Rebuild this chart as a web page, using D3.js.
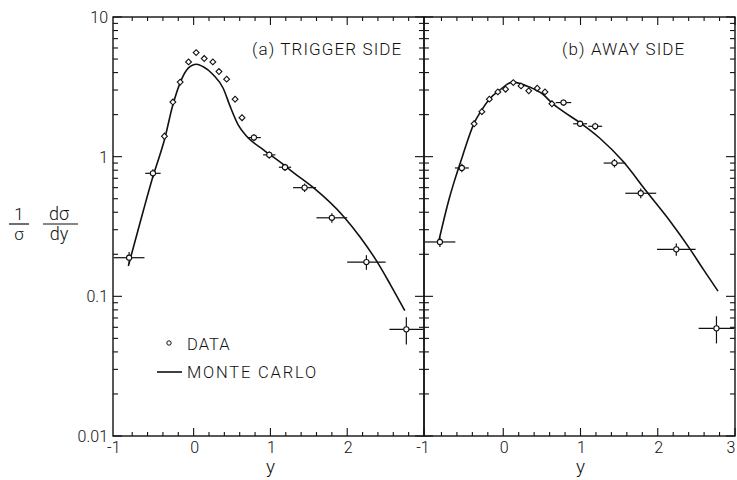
<!DOCTYPE html>
<html>
<head>
<meta charset="utf-8">
<script src="https://cdn.jsdelivr.net/npm/d3@7"></script>
<style>
  body { margin: 0; background: #fff; }
  text { font-family: Roboto, "Liberation Sans", sans-serif; font-weight: 300; fill: #111; }
</style>
</head>
<body>
<script>
// (a) trigger side data
var trigX    = [-0.84, -0.53, -0.38, -0.27, -0.175, -0.066, 0.033, 0.138, 0.25, 0.33, 0.43, 0.54, 0.63, 0.785, 0.985, 1.19, 1.445, 1.80, 2.25, 2.77]
var trigY    = [0.189, 0.76, 1.40, 2.46, 3.42, 4.77, 5.56, 5.04, 4.77, 4.07, 3.59, 2.58, 1.90, 1.37, 1.03, 0.84, 0.60, 0.365, 0.176, 0.058]
var trigXerr = [0.2, 0.1, 0, 0, 0, 0, 0, 0, 0, 0, 0, 0, 0, 0.09, 0.08, 0.08, 0.15, 0.2, 0.25, 0.22]
var trigYerr = [0.1, 0.07, 0.06, 0.05, 0.05, 0.04, 0.04, 0.04, 0.04, 0.04, 0.04, 0.05, 0.05, 0.06, 0.06, 0.06, 0.07, 0.08, 0.12, 0.22]
var trigMcX  = [-0.85, -0.77, -0.65, -0.53, -0.38, -0.27, -0.16, -0.07, 0.037, 0.12, 0.255, 0.385, 0.474, 0.58, 0.69, 0.91, 1.17, 1.30, 1.56, 1.95, 2.17, 2.38, 2.56, 2.75]
var trigMcY  = [0.165, 0.24, 0.42, 0.72, 1.32, 2.35, 3.55, 4.3, 4.59, 4.42, 3.86, 3.09, 2.3, 1.69, 1.40, 1.12, 0.877, 0.77, 0.60, 0.375, 0.265, 0.18, 0.122, 0.079]

// (b) away side data
var awayX    = [-0.82, -0.536, -0.377, -0.277, -0.18, -0.07, 0.03, 0.13, 0.23, 0.33, 0.44, 0.54, 0.63, 0.78, 0.995, 1.19, 1.44, 1.78, 2.24, 2.76]
var awayY    = [0.245, 0.83, 1.72, 2.10, 2.58, 2.91, 3.04, 3.39, 3.21, 2.96, 3.09, 2.91, 2.39, 2.44, 1.72, 1.65, 0.90, 0.547, 0.217, 0.059]
var awayXerr = [0.2, 0.09, 0, 0, 0, 0, 0, 0, 0, 0, 0, 0, 0, 0.1, 0.09, 0.09, 0.14, 0.2, 0.25, 0.23]
var awayYerr = [0.08, 0.07, 0.05, 0.05, 0.04, 0.04, 0.04, 0.04, 0.04, 0.04, 0.04, 0.04, 0.05, 0.05, 0.05, 0.06, 0.07, 0.08, 0.1, 0.22]
var awayMcX  = [-0.83, -0.70, -0.636, -0.53, -0.377, -0.29, -0.18, -0.05, 0.12, 0.34, 0.51, 0.64, 0.78, 0.987, 1.247, 1.55, 1.853, 2.16, 2.42, 2.59, 2.78]
var awayMcY  = [0.255, 0.50, 0.66, 1.0, 1.74, 2.11, 2.58, 2.98, 3.42, 3.15, 2.80, 2.40, 2.10, 1.76, 1.36, 0.926, 0.565, 0.345, 0.217, 0.156, 0.109]

var yTicks = [10, 1, 0.1, 0.01]
var yTickLabels = ["10", "1", "0.1", "0.01"]

var svg = d3.select("body").append("svg")
    .attr("width", 737)
    .attr("height", 480)

var yTop = 17, yBottom = 436
var y = d3.scaleLog().domain([0.01, 10]).range([yBottom, yTop])

var panels = [
  { dom: [-1.05, 3], x0: 113, x1: 424, label: "(a) TRIGGER SIDE", lx: 252, xs: trigX, ys: trigY, xe: trigXerr, ye: trigYerr, mx: trigMcX, my: trigMcY, xlabels: [-1, 0, 1, 2] },
  { dom: [-1.026, 3], x0: 424, x1: 735, label: "(b) AWAY SIDE", lx: 562, xs: awayX, ys: awayY, xe: awayXerr, ye: awayYerr, mx: awayMcX, my: awayMcY, xlabels: [-1, 0, 1, 2, 3] }
]

// y ticks 1..9 per decade
var yMinor = []
for (var p = -2; p < 1; p++) {
  for (var k = 1; k < 10; k++) yMinor.push(k * Math.pow(10, p))
}
yMinor.push(10)

panels.forEach(function (pn) {
  var x = d3.scaleLinear().domain(pn.dom).range([pn.x0, pn.x1])
  var g = svg.append("g")

  // frame
  g.append("rect")
    .attr("x", pn.x0).attr("y", yTop)
    .attr("width", pn.x1 - pn.x0).attr("height", yBottom - yTop)
    .attr("fill", "none").attr("stroke", "#111").attr("stroke-width", 1.4)

  // x ticks top and bottom
  d3.range(-0.8, 3.001, 0.2).forEach(function (v) {
    var major = Math.abs(v - Math.round(v)) < 1e-6
    var len = major ? 8 : 4
    g.append("line").attr("x1", x(v)).attr("x2", x(v)).attr("y1", yBottom).attr("y2", yBottom - len)
      .attr("stroke", "#111").attr("stroke-width", 1.1)
    g.append("line").attr("x1", x(v)).attr("x2", x(v)).attr("y1", yTop).attr("y2", yTop + len)
      .attr("stroke", "#111").attr("stroke-width", 1.1)
  })

  // y ticks on both sides
  yMinor.forEach(function (v) {
    var major = Math.abs(Math.log10(v) - Math.round(Math.log10(v))) < 1e-6
    var len = major ? 9 : 5
    g.append("line").attr("x1", pn.x0).attr("x2", pn.x0 + len).attr("y1", y(v)).attr("y2", y(v))
      .attr("stroke", "#111").attr("stroke-width", 1.1)
    g.append("line").attr("x1", pn.x1).attr("x2", pn.x1 - len).attr("y1", y(v)).attr("y2", y(v))
      .attr("stroke", "#111").attr("stroke-width", 1.1)
  })

  // x tick labels
  g.selectAll(".xl").data(pn.xlabels).enter().append("text")
    .attr("x", function (d) { return Math.min(x(d) + (d < 0 ? -3 : 1), 731) })
    .attr("y", 453)
    .attr("text-anchor", "middle")
    .style("font-size", "16px")
    .text(function (d) { return d < 0 ? "-" + Math.abs(d) : d })

  g.append("text").attr("x", x(1)).attr("y", 473)
    .attr("text-anchor", "middle").style("font-size", "19px").text("y")

  // panel label
  g.append("text").attr("x", pn.lx).attr("y", 55)
    .style("font-size", "17px").style("letter-spacing", "1.1px").text(pn.label)

  // monte carlo curve
  var line = d3.line()
    .x(function (d) { return x(d[0]) })
    .y(function (d) { return y(d[1]) })
    .curve(d3.curveMonotoneX)
  g.append("path")
    .datum(d3.zip(pn.mx, pn.my))
    .attr("d", line)
    .attr("fill", "none").attr("stroke", "#111").attr("stroke-width", 1.6)

  // data points with error bars
  pn.xs.forEach(function (xv, i) {
    var yv = pn.ys[i], cx = x(xv), cy = y(yv)
    if (pn.xe[i] > 0) {
      g.append("line").attr("x1", x(xv - pn.xe[i])).attr("x2", x(xv + pn.xe[i]))
        .attr("y1", cy).attr("y2", cy).attr("stroke", "#111").attr("stroke-width", 1.2)
    }
    g.append("line").attr("x1", cx).attr("x2", cx)
      .attr("y1", y(yv * (1 - pn.ye[i]))).attr("y2", y(yv * (1 + pn.ye[i])))
      .attr("stroke", "#111").attr("stroke-width", 1.2)
    if (pn.xe[i] > 0) {
      g.append("circle").attr("cx", cx).attr("cy", cy).attr("r", 2.6)
        .attr("fill", "#fff").attr("stroke", "#111").attr("stroke-width", 1.1)
    } else {
      g.append("path")
        .attr("transform", "translate(" + cx + "," + cy + ") rotate(45)")
        .attr("d", d3.symbol().type(d3.symbolSquare).size(17)())
        .attr("fill", "#fff").attr("stroke", "#111").attr("stroke-width", 1.1)
    }
  })
})

// y tick labels
svg.selectAll(".yl").data(yTicks).enter().append("text")
  .attr("x", 108)
  .attr("y", function (d) { return Math.max(y(d) + 6, 20) })
  .attr("text-anchor", "end")
  .style("font-size", "16px")
  .text(function (d, i) { return yTickLabels[i] })

// y axis title as fraction
var yt = svg.append("g")
yt.append("text").attr("x", 19).attr("y", 220).attr("text-anchor", "middle").style("font-size", "17px").text("1")
yt.append("line").attr("x1", 9).attr("x2", 29).attr("y1", 224).attr("y2", 224).attr("stroke", "#111").attr("stroke-width", 1.2)
yt.append("text").attr("x", 19).attr("y", 240).attr("text-anchor", "middle").style("font-size", "17px").text("σ")
yt.append("text").attr("x", 59).attr("y", 220).attr("text-anchor", "middle").style("font-size", "18px").text("dσ")
yt.append("line").attr("x1", 43).attr("x2", 78).attr("y1", 224).attr("y2", 224).attr("stroke", "#111").attr("stroke-width", 1.2)
yt.append("text").attr("x", 59).attr("y", 240).attr("text-anchor", "middle").style("font-size", "18px").text("dy")

// legend
var lg = svg.append("g")
lg.append("circle").attr("cx", 169).attr("cy", 343).attr("r", 2.2)
  .attr("fill", "#fff").attr("stroke", "#111").attr("stroke-width", 1)
lg.append("text").attr("x", 187).attr("y", 350).style("font-size", "16.5px").style("letter-spacing", "1px").text("DATA")
lg.append("line").attr("x1", 157).attr("x2", 182).attr("y1", 372).attr("y2", 372)
  .attr("stroke", "#111").attr("stroke-width", 1.6)
lg.append("text").attr("x", 187).attr("y", 378).style("font-size", "16.5px").style("letter-spacing", "1.8px").text("MONTE CARLO")
</script>
</body>
</html>
